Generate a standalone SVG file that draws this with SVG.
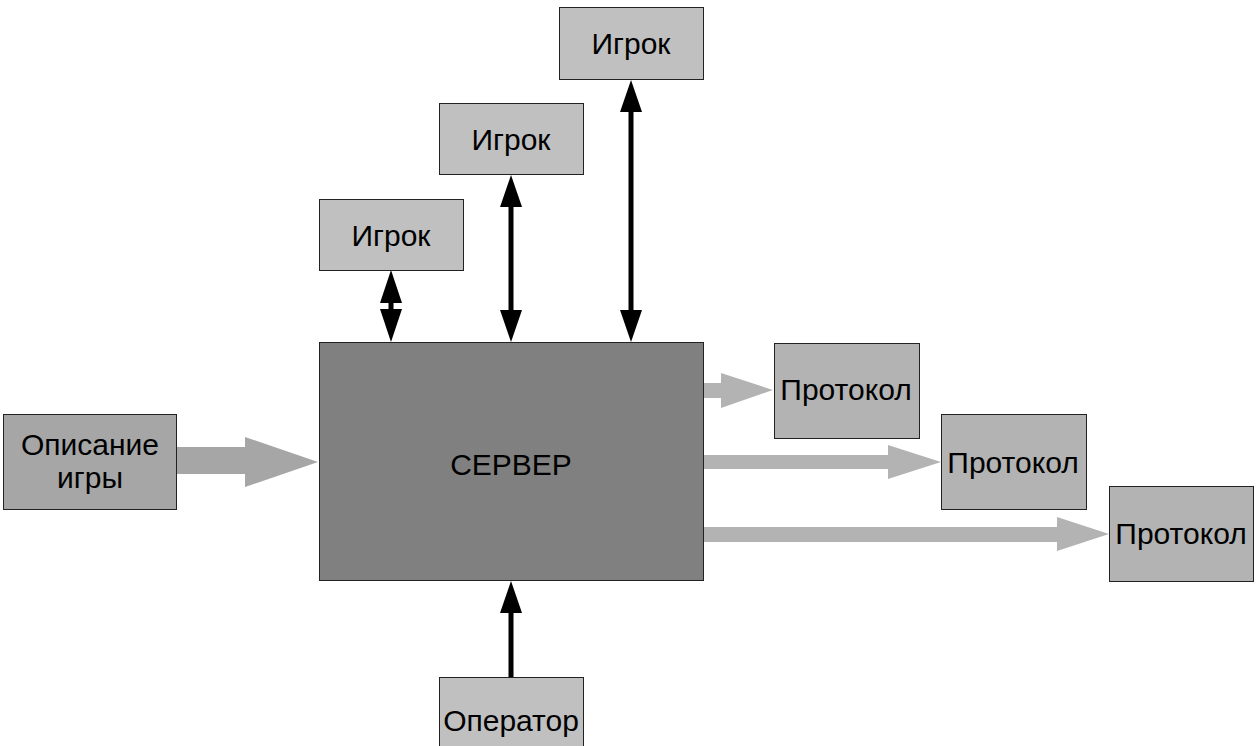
<svg xmlns="http://www.w3.org/2000/svg" width="1259" height="746" viewBox="0 0 1259 746">
<defs>
<style>
.box{stroke:#222;stroke-width:1}
.light{fill:#c0c0c0}
.proto{fill:#b3b3b3}
.desc{fill:#a6a6a6}
.srv{fill:#808080}
text{font-family:"Liberation Sans",Arial,sans-serif;font-size:30px;fill:#000;text-anchor:middle}
.blk{fill:#000}
.ga{fill:#b3b3b3}
.gd{fill:#a6a6a6}
</style>
</defs>
<rect width="1259" height="746" fill="#fff"/>
<g id="connectors">
<rect class="blk" x="388.5" y="300" width="5" height="12"/>
<polygon class="blk" points="391,270 402,303 380,303"/>
<polygon class="blk" points="391,342 402,309 380,309"/>
<rect class="blk" x="508.5" y="200" width="5" height="120"/>
<polygon class="blk" points="511,175 522,207 500,207"/>
<polygon class="blk" points="511,342 522,310 500,310"/>
<rect class="blk" x="628.5" y="105" width="5" height="215"/>
<polygon class="blk" points="631,80 642,112 620,112"/>
<polygon class="blk" points="631,342 642,310 620,310"/>
<rect class="blk" x="508.5" y="605" width="5" height="72"/>
<polygon class="blk" points="511,581 522,613 500,613"/>
<polygon class="gd" points="176,447 245,447 245,437 318,462 245,487 245,474 176,474"/>
<polygon class="ga" points="703,383 721,383 721,373 773,390 721,408 721,398 703,398"/>
<polygon class="ga" points="703,455 888,455 888,445 941,462 888,479 888,469 703,469"/>
<polygon class="ga" points="703,527 1057,527 1057,517 1109,534 1057,551 1057,542 703,542"/>
</g>
<g id="server">
<rect class="box srv" x="319.5" y="342.5" width="384" height="238"/>
<text x="511" y="475">СЕРВЕР</text>
</g>
<g id="player1">
<rect class="box light" x="319.5" y="199.5" width="144" height="71"/>
<text x="391" y="246">Игрок</text>
</g>
<g id="player2">
<rect class="box light" x="439.5" y="103.5" width="144" height="71"/>
<text x="511" y="150">Игрок</text>
</g>
<g id="player3">
<rect class="box light" x="559.5" y="7.5" width="144" height="72"/>
<text x="631" y="54">Игрок</text>
</g>
<g id="description">
<rect class="box desc" x="3.5" y="414.5" width="173" height="95"/>
<text x="90" y="455">Описание</text>
<text x="90" y="488">игры</text>
</g>
<g id="protocol1">
<rect class="box proto" x="774.5" y="343.5" width="145" height="95"/>
<text x="846" y="400">Протокол</text>
</g>
<g id="protocol2">
<rect class="box proto" x="941.5" y="414.5" width="145" height="95"/>
<text x="1013" y="473">Протокол</text>
</g>
<g id="protocol3">
<rect class="box proto" x="1109.5" y="486.5" width="144" height="95"/>
<text x="1181" y="544">Протокол</text>
</g>
<g id="operator">
<rect class="box light" x="439.5" y="677.5" width="144" height="80"/>
<text x="511" y="731">Оператор</text>
</g>
</svg>
